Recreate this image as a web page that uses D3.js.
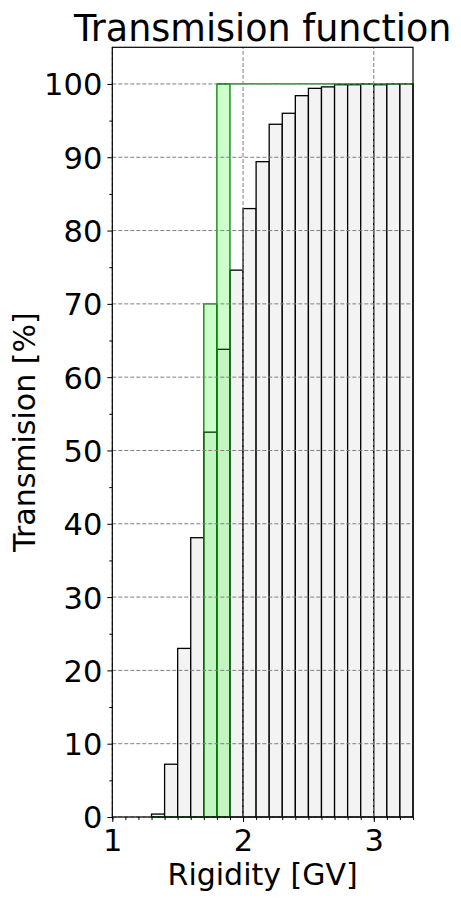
<!DOCTYPE html>
<html>
<head>
<meta charset="utf-8">
<script src="https://cdn.jsdelivr.net/npm/d3@7"></script>
<style>
  body { margin: 0; background: #fff; }
  svg text { font-family: "DejaVu Sans", sans-serif; fill: #000; }
</style>
</head>
<body>
<svg id="chart" width="461" height="900"></svg>
<script>
// histogram bins (left edges, GV) and transmission values [%]
const binEdges = [1.3, 1.4, 1.5, 1.6, 1.7, 1.8, 1.9, 2.0, 2.1, 2.2, 2.3, 2.4, 2.5, 2.6, 2.7, 2.8, 2.9, 3.0, 3.1, 3.2]
const transmission = [0.4, 7.2, 23.0, 38.1, 52.5, 63.8, 74.6, 83.0, 89.4, 94.5, 96.0, 98.4, 99.4, 99.6, 99.9, 99.9, 100, 99.9, 100, 100]
const binWidth = 0.1

// green band (filled bins) and green step segments
const bandEdges = [1.7, 1.8]
const bandValues = [70, 100]
const stepSegments = [[1.3, 1.7, 0], [1.8, 3.3, 100]]

const xTicks = [1, 2, 3]
const yTicks = [0, 10, 20, 30, 40, 50, 60, 70, 80, 90, 100]
const xDomain = [1, 3.3]
const yDomain = [0, 105]

const margin = { left: 112.3, right: 48, top: 47.3, bottom: 83 }
const W = 461, H = 900

const svg = d3.select("#chart")

const x = d3.scaleLinear().domain(xDomain).range([margin.left, W - margin.right])
const y = d3.scaleLinear().domain(yDomain).range([H - margin.bottom, margin.top])

const plot = svg.append("g")

// grey bars
plot.selectAll("rect.bar")
  .data(binEdges)
  .enter()
  .append("rect")
  .attr("class", "bar")
  .attr("x", function(d){ return x(d) })
  .attr("width", function(d){ return x(d + binWidth) - x(d) })
  .attr("y", function(d, i){ return y(transmission[i]) })
  .attr("height", function(d, i){ return y(0) - y(transmission[i]) })
  .attr("fill", "#f3f3f3")
  .attr("stroke", "black")
  .attr("stroke-width", 1.3)

// green band
plot.selectAll("rect.band")
  .data(bandEdges)
  .enter()
  .append("rect")
  .attr("class", "band")
  .attr("x", function(d){ return x(d) })
  .attr("width", function(d){ return x(d + binWidth) - x(d) })
  .attr("y", function(d, i){ return y(bandValues[i]) })
  .attr("height", function(d, i){ return y(0) - y(bandValues[i]) })
  .attr("fill", "rgba(0,255,0,0.2)")
  .attr("stroke", "green")
  .attr("stroke-width", 1.3)

plot.selectAll("line.step")
  .data(stepSegments)
  .enter()
  .append("line")
  .attr("x1", function(d){ return x(d[0]) })
  .attr("x2", function(d){ return x(d[1]) })
  .attr("y1", function(d){ return y(d[2]) })
  .attr("y2", function(d){ return y(d[2]) })
  .attr("stroke", "green")
  .attr("stroke-width", 1.3)

// grid (drawn above bars)
const grid = svg.append("g")
grid.selectAll("line.gy")
  .data(yTicks)
  .enter()
  .append("line")
  .attr("x1", x.range()[0]).attr("x2", x.range()[1])
  .attr("y1", function(d){ return y(d) }).attr("y2", function(d){ return y(d) })
  .attr("stroke", "gray").attr("stroke-width", 1).attr("stroke-dasharray", "4,2")
grid.selectAll("line.gx")
  .data(xTicks)
  .enter()
  .append("line")
  .attr("y1", y.range()[0]).attr("y2", y.range()[1])
  .attr("x1", function(d){ return x(d) }).attr("x2", function(d){ return x(d) })
  .attr("stroke", "gray").attr("stroke-width", 1).attr("stroke-dasharray", "4,2")

// axes
const xAxis = d3.axisBottom(x).tickValues(xTicks).tickFormat(d3.format("d")).tickSize(5).tickPadding(5)
const xMinor = d3.axisBottom(x).tickValues(d3.range(10, 34).map(v => v / 10)).tickFormat("").tickSize(3)
const yAxis = d3.axisLeft(y).tickValues(yTicks).tickFormat(d3.format("d")).tickSize(5).tickPadding(5)
const yMinor = d3.axisLeft(y).tickValues(d3.range(5, 105, 10)).tickFormat("").tickSize(3)

function styleAxis (g) {
  g.select(".domain").remove()
  g.selectAll(".tick line").attr("stroke", "black").attr("stroke-width", 1)
}

svg.append("g").attr("transform", `translate(0,${y(0)})`).call(xMinor).call(styleAxis)
svg.append("g").attr("transform", `translate(${x(xDomain[0])},0)`).call(yMinor).call(styleAxis)

svg.append("g").attr("transform", `translate(0,${y(0)})`).call(xAxis).call(styleAxis)
  .selectAll("text").style("font-size", "30.5px").attr("dy", "0.78em")
svg.append("g").attr("transform", `translate(${x(xDomain[0])},0)`).call(yAxis).call(styleAxis)
  .selectAll("text").style("font-size", "30.5px").attr("dy", "0.36em")

// frame
svg.append("rect")
  .attr("x", x.range()[0]).attr("y", y.range()[1])
  .attr("width", x.range()[1] - x.range()[0]).attr("height", y.range()[0] - y.range()[1])
  .attr("fill", "none").attr("stroke", "black").attr("stroke-width", 1.2)

// labels
const cx = (x.range()[0] + x.range()[1]) / 2
const cy = (y.range()[0] + y.range()[1]) / 2
svg.append("text").attr("x", cx).attr("y", 40.7).attr("text-anchor", "middle")
  .style("font-size", "36.5px").text("Transmision function")
svg.append("text").attr("x", cx).attr("y", 885).attr("text-anchor", "middle")
  .style("font-size", "30px").text("Rigidity [GV]")
svg.append("text").attr("transform", `translate(34.5,${cy}) rotate(-90)`).attr("text-anchor", "middle")
  .style("font-size", "30px").text("Transmision [%]")
</script>
</body>
</html>
